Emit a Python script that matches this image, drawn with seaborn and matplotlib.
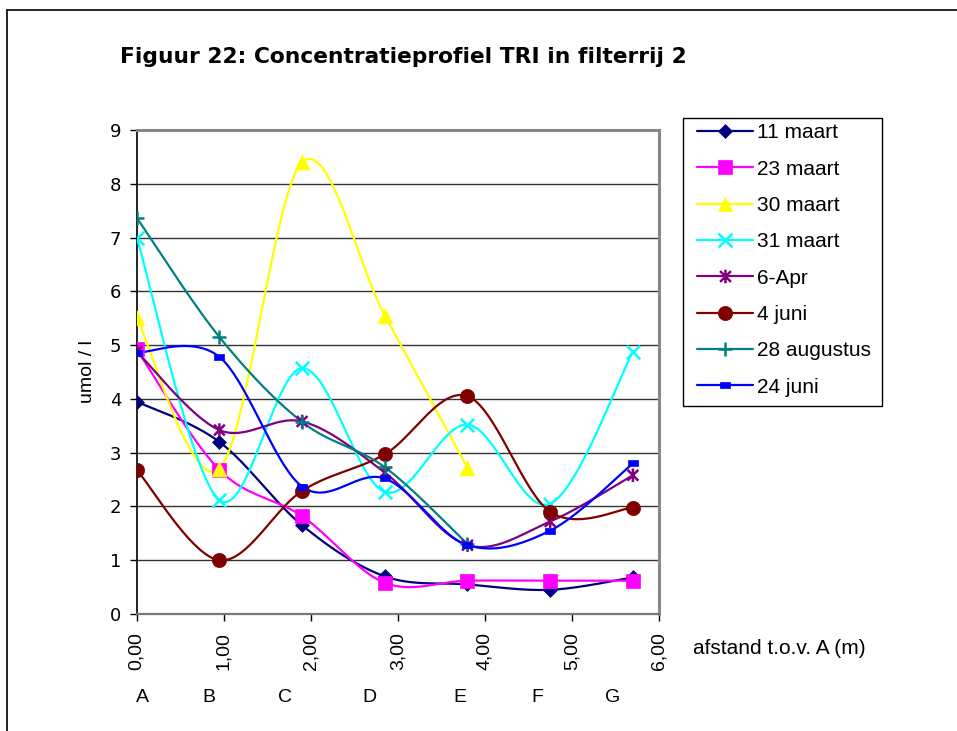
import numpy as np
import pandas as pd
import matplotlib
matplotlib.use("Agg")
import matplotlib.pyplot as plt
from matplotlib.lines import Line2D
from matplotlib.patches import Rectangle
from matplotlib.path import Path
import seaborn as sns

# Meetpunten langs de filterrij (afstand in m) en hun letters
afstand = [0.0, 0.95, 1.9, 2.85, 3.8, 4.75, 5.7]
punten = ["A", "B", "C", "D", "E", "F", "G"]

# TRI-concentraties (umol/l) per meetdatum
maart_11 = [3.95, 3.2, 1.65, 0.70, 0.55, 0.45, 0.68]
maart_23 = [4.92, 2.68, 1.82, 0.58, 0.62, 0.62, 0.62]
maart_30 = [5.50, 2.70, 8.40, 5.55, 2.72, None, None]
maart_31 = [7.00, 2.12, 4.57, 2.27, 3.52, 2.05, 4.88]
apr_6 = [4.88, 3.42, 3.58, 2.63, 1.28, 1.72, 2.58]
juni_4 = [2.68, 1.00, 2.29, 2.97, 4.05, 1.90, 1.98]
aug_28 = [7.37, 5.15, 3.57, 2.73, 1.30, None, None]
juni_24 = [4.86, 4.78, 2.37, 2.52, 1.28, 1.55, 2.80]

labels = ["11 maart", "23 maart", "30 maart", "31 maart", "6-Apr",
          "4 juni", "28 augustus", "24 juni"]
series = [maart_11, maart_23, maart_30, maart_31, apr_6, juni_4, aug_28, juni_24]

rows = []
for lab, vals in zip(labels, series):
    for x, y in zip(afstand, vals):
        if y is not None:
            rows.append({"datum": lab, "afstand": x, "conc": y})
df = pd.DataFrame(rows)

asterisk = Path([(-1, -1), (1, 1), (-1, 1), (1, -1), (0, -1.25), (0, 1.25)],
                [Path.MOVETO, Path.LINETO, Path.MOVETO, Path.LINETO,
                 Path.MOVETO, Path.LINETO])
dash_rect = [(-1, -0.5), (1, -0.5), (1, 0.5), (-1, 0.5), (-1, -0.5)]

style = {
    "11 maart": dict(color="#000080", marker="D", s=50, filled=True),
    "23 maart": dict(color="#FF00FF", marker="s", s=95, filled=True),
    "30 maart": dict(color="#FFFF00", marker="^", s=115, filled=True),
    "31 maart": dict(color="#00FFFF", marker="x", s=95, filled=False),
    "6-Apr": dict(color="#800080", marker=asterisk, s=95, filled=False),
    "4 juni": dict(color="#800000", marker="o", s=105, filled=True),
    "28 augustus": dict(color="#008080", marker="+", s=100, filled=False),
    "24 juni": dict(color="#0000FF", marker=dash_rect, s=55, filled=True),
}


def smooth_curve(xs, ys, n=40):
    """Catmull-Rom style Bezier smoothing through the given points."""
    pts = np.column_stack([xs, ys]).astype(float)
    out = []
    for i in range(len(pts) - 1):
        p0 = pts[i - 1] if i > 0 else pts[i]
        p1, p2 = pts[i], pts[i + 1]
        p3 = pts[i + 2] if i + 2 < len(pts) else pts[i + 1]
        c1 = p1 + (p2 - p0) / 6.0
        c2 = p2 - (p3 - p1) / 6.0
        t = np.linspace(0, 1, n)[:, None]
        seg = ((1 - t) ** 3) * p1 + 3 * ((1 - t) ** 2) * t * c1 \
            + 3 * (1 - t) * t ** 2 * c2 + t ** 3 * p2
        out.append(seg if i == 0 else seg[1:])
    return np.vstack(out)


sns.set_theme(style="white")
plt.rcParams["font.family"] = ["Liberation Sans", "DejaVu Sans"]
plt.rcParams["text.color"] = "black"
plt.rcParams["axes.labelcolor"] = "black"
plt.rcParams["xtick.color"] = "black"
plt.rcParams["ytick.color"] = "black"

W, H = 957, 731
fig = plt.figure(figsize=(W / 100, H / 100), dpi=100)
fig.patch.set_facecolor("white")

L, R, T, B = 136.7, 659.0, 130.0, 614.0
ax = fig.add_axes([L / W, 1 - B / H, (R - L) / W, (B - T) / H])
ax.set_facecolor("white")

for lab in labels:
    st = style[lab]
    sub = df[df["datum"] == lab]
    curve = smooth_curve(sub["afstand"].values, sub["conc"].values)
    cdf = pd.DataFrame({"x": curve[:, 0], "y": curve[:, 1]})
    sns.lineplot(data=cdf, x="x", y="y", sort=False, estimator=None,
                 color=st["color"], linewidth=1.6, ax=ax, zorder=3)

for lab in labels:
    st = style[lab]
    sub = df[df["datum"] == lab]
    if st["filled"]:
        sns.scatterplot(data=sub, x="afstand", y="conc", marker=st["marker"],
                        s=st["s"], color=st["color"], edgecolor=st["color"],
                        linewidth=0.5, ax=ax, zorder=4)
    elif isinstance(st["marker"], Path):
        ax.scatter(sub["afstand"], sub["conc"], marker=st["marker"], s=st["s"],
                   facecolors="none", edgecolors=st["color"],
                   linewidths=1.8, zorder=4)
    else:
        ax.scatter(sub["afstand"], sub["conc"], marker=st["marker"], s=st["s"],
                   color=st["color"], linewidths=1.8, zorder=4)

ax.set_xlim(0, 6)
ax.set_ylim(0, 9)
ax.set_xticks(range(7))
ax.set_xticklabels([f"{v},00" for v in range(7)], rotation=90, fontsize=14)
ax.set_yticks(range(10))
ax.set_yticklabels([str(v) for v in range(10)], fontsize=13,
                   family=["DejaVu Sans"])
ax.tick_params(axis="both", direction="out", length=5, width=1, color="black",
               labelcolor="black", bottom=True, left=True)
ax.tick_params(axis="x", pad=8)
ax.tick_params(axis="y", pad=6)
ax.set_xlabel("")
ax.set_ylabel("umol / l", fontsize=14, labelpad=10, color="black")
ax.grid(axis="y", color="#333333", linewidth=1.0)
ax.grid(axis="x", visible=False)
ax.set_axisbelow(True)
for side in ["top", "right"]:
    ax.spines[side].set_color("#888888")
    ax.spines[side].set_linewidth(2.2)
ax.spines["left"].set_color("black")
ax.spines["left"].set_linewidth(1.2)
ax.spines["bottom"].set_color("#777777")
ax.spines["bottom"].set_linewidth(1.6)

fig.text(120 / W, 1 - 57 / H, "Figuur 22: Concentratieprofiel TRI in filterrij 2",
         fontsize=15.7, fontweight="bold", family=["DejaVu Sans"],
         color="black", ha="left", va="center")
fig.text(693 / W, 1 - 649 / H, "afstand t.o.v. A (m)", fontsize=15,
         color="black", ha="left", va="center")
letter_x = [142, 209, 285, 369, 460, 537, 613]
for px, p in zip(letter_x, punten):
    fig.text(px / W, 1 - 697 / H, p, fontsize=14, color="black",
             ha="center", va="center")

handles = []
for lab in labels:
    st = style[lab]
    mk = st["marker"]
    handles.append(Line2D([0], [0], color=st["color"], linewidth=1.6, marker=mk,
                          markersize=np.sqrt(st["s"]),
                          markerfacecolor=st["color"] if st["filled"] else "none",
                          markeredgecolor=st["color"],
                          markeredgewidth=1.8 if not st["filled"] else 0.5))
leg = fig.legend(handles, labels, loc="upper left",
                 bbox_to_anchor=(697 / W, 1 - 123.5 / H), borderaxespad=0,
                 borderpad=0, frameon=False, fontsize=15, handlelength=2.7,
                 handletextpad=0.2, labelspacing=0.83)
for txt in leg.get_texts():
    txt.set_color("black")
fig.add_artist(Rectangle((683 / W, 1 - 406 / H), 199 / W, 288 / H,
                         transform=fig.transFigure, fill=False,
                         edgecolor="black", linewidth=1.0))

# figure border
fig.add_artist(Line2D([7 / W, 7 / W], [0, 1 - 10 / H], color="black", linewidth=1.2))
fig.add_artist(Line2D([7 / W, 1], [1 - 10 / H, 1 - 10 / H], color="black", linewidth=1.2))

fig.savefig("out.png", dpi=100)
